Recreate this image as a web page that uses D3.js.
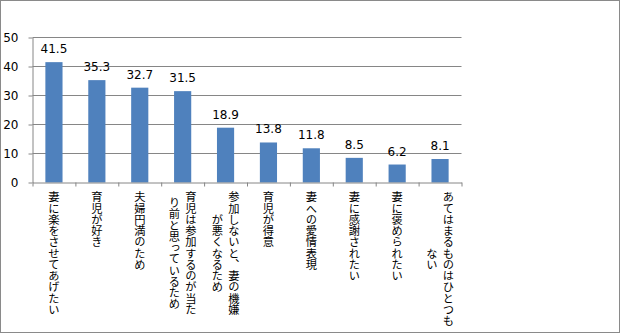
<!DOCTYPE html>
<html><head><meta charset="utf-8">
<script src="https://cdn.jsdelivr.net/npm/d3@7"></script>
<style>html,body{margin:0;padding:0;background:#fff;} svg{display:block;}</style>
</head><body><svg id="c" width="621" height="335"></svg>
<script>
const categories = ["妻に楽をさせてあげたい","育児が好き","夫婦円満のため","育児は参加するのが当た\nり前と思っているため","参加しないと、妻の機嫌\nが悪くなるため","育児が得意","妻への愛情表現","妻に感謝されたい","妻に褒められたい","あてはまるものはひとつも\nない"];
const values = [41.5,35.3,32.7,31.5,18.9,13.8,11.8,8.5,6.2,8.1];
const yTicks = [0,10,20,30,40,50];

const svg = d3.select("#c");
const axisColor = "#868686";
const left = 32.5, right = 461.5, y0 = 182.5, yTop = 37.5;

svg.append("rect").attr("x",0.5).attr("y",0.5).attr("width",619).attr("height",332)
  .attr("fill","#fff").attr("stroke","#8a8a8a");

const y = d3.scaleLinear().domain([0,50]).range([y0,yTop]);
const x = d3.scaleBand().domain(categories).range([left,right]).paddingInner(0.6).paddingOuter(0.3);
const xs = d3.scaleLinear().domain([0,categories.length]).range([left,right]);

// gridlines
svg.append("g").selectAll("line").data(yTicks.filter(t=>t>0)).join("line")
  .attr("x1",left).attr("x2",right).attr("y1",d=>y(d)).attr("y2",d=>y(d))
  .attr("stroke",axisColor).attr("stroke-width",1);

// bars
svg.append("g").selectAll("rect").data(values).join("rect")
  .attr("x",(d,i)=>x(categories[i])).attr("width",x.bandwidth())
  .attr("y",d=>y(d)).attr("height",d=>y0-y(d)).attr("fill","#4F81BD");

// y axis
const ya = svg.append("g").attr("transform",`translate(${left},0)`)
  .call(d3.axisLeft(y).tickValues(yTicks).tickSize(4).tickSizeOuter(0).tickPadding(10).tickFormat(d3.format("d")));
ya.selectAll("path,line").attr("stroke",axisColor);
ya.selectAll("text").attr("font-family","DejaVu Sans").attr("font-size",12).attr("fill","#000");

// x axis (ticks between categories)
const xa = svg.append("g").attr("transform",`translate(0,${y0})`)
  .call(d3.axisBottom(xs).tickValues(d3.range(categories.length+1)).tickSize(4).tickSizeOuter(0).tickFormat(""));
xa.selectAll("path,line").attr("stroke",axisColor);

// value labels
svg.append("g").selectAll("text").data(values).join("text")
  .attr("x",(d,i)=>x(categories[i])+x.bandwidth()/2)
  .attr("y",d=>y(d)-9)
  .attr("text-anchor","middle").attr("font-family","DejaVu Sans").attr("font-size",12).attr("fill","#000")
  .text(d=>d.toFixed(1));

// category labels, vertical
const fs = 11.25, labTop = 191.5, lineGap = 16.6;
const lg = svg.append("g");
categories.forEach((c,i)=>{
  const lines = c.split("\n");
  const cx = x(c)+x.bandwidth()/2;
  const maxLen = d3.max(lines, l=>l.length);
  const midY = labTop + maxLen*fs/2;
  lines.forEach((l,j)=>{
    const off = (j - (lines.length-1)/2) * -lineGap;
    lg.append("text")
      .attr("x", cx + off).attr("y", midY)
      .attr("text-anchor","middle")
      .style("writing-mode","vertical-rl")
      .attr("font-family","'Noto Sans CJK JP'").attr("font-size",fs).attr("fill","#000")
      .text(l);
  });
});
</script></body></html>
